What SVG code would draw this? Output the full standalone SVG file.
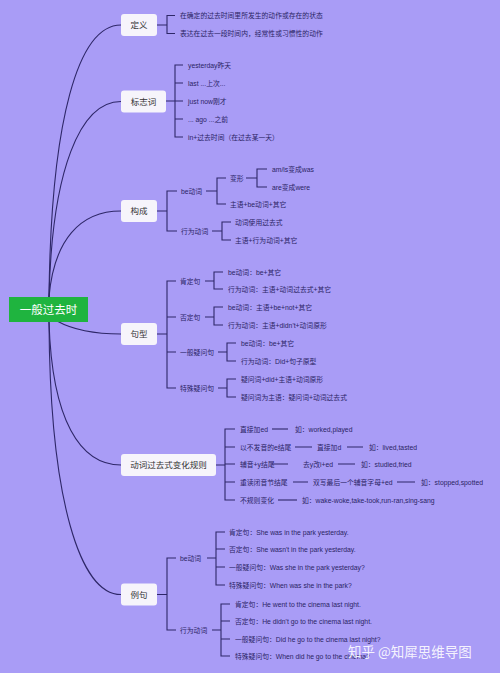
<svg xmlns="http://www.w3.org/2000/svg" width="500" height="673" viewBox="0 0 500 673">
<style>
.bg{fill:#a99cf6}
.ln{fill:none;stroke:#2e2768;stroke-width:1.1}
.box{fill:#f6f4fb;stroke:none}
.t1{font-family:"Liberation Sans","Noto Sans CJK SC",sans-serif;font-size:8.5px;fill:#333;text-anchor:middle;dominant-baseline:central}
.t{font-family:"Liberation Sans","Noto Sans CJK SC",sans-serif;font-size:6.8px;fill:#2b2465;dominant-baseline:central}
.root{fill:#1fb43f}
.tr{font-family:"Liberation Sans","Noto Sans CJK SC",sans-serif;font-size:11.5px;fill:#fff;text-anchor:middle;dominant-baseline:central}
.wm{font-family:"Noto Sans CJK SC",sans-serif;font-size:13.5px;fill:#fff;fill-opacity:0.9}
</style>
<rect class="bg" x="0" y="0" width="500" height="673"/>
<g id="connectors">
<path class="ln" d="M49,297 C51,120 78,25 121,25"/>
<path class="ln" d="M49,297 C52,170 80,101.5 121,101.5"/>
<path class="ln" d="M49,297 C54,240 80,211 121,211"/>
<path class="ln" d="M57,321 C75,331 95,334 121,334"/>
<path class="ln" d="M49,322 C52,420 80,465 121,465"/>
<path class="ln" d="M49,322 C50,500 80,594.5 121,594.5"/>
<!-- 定义 -->
<path class="ln" d="M157,25 H167 M175,15.5 H167 V33.5 H175"/>
<!-- 标志词 -->
<path class="ln" d="M166,101 H183 M183,65 H175 V137 H183 M175,83 H183 M175,119 H183"/>
<!-- 构成 -->
<path class="ln" d="M157,211 H167 M177,191 H167 V231 H177"/>
<path class="ln" d="M206,191 H217 M226,178 H217 V204 H226"/>
<path class="ln" d="M246,178 H257 M267,169 H257 V187 H267"/>
<path class="ln" d="M212,231 H222 M231,222 H222 V240 H231"/>
<!-- 句型 -->
<path class="ln" d="M157,334 H167 M176,281 H167 V388 H176 M167,317 H176 M167,352 H176"/>
<path class="ln" d="M205,281 H214 M223,272 H214 V289 H223"/>
<path class="ln" d="M205,317 H214 M223,307 H214 V325 H223"/>
<path class="ln" d="M218,352 H227 M236,343 H227 V361 H236"/>
<path class="ln" d="M218,388 H227 M236,379 H227 V397 H236"/>
<!-- 动词过去式变化规则 -->
<path class="ln" d="M216,465 H225 M235,429 H225 V500 H235 M225,447 H235 M225,464 H235 M225,482 H235"/>
<path class="ln" d="M272,429 H288"/>
<path class="ln" d="M295,447 H312 M347,447 H363"/>
<path class="ln" d="M272,464 H288 M338,464 H355"/>
<path class="ln" d="M293,482 H308 M397,482 H415"/>
<path class="ln" d="M278,500 H297"/>
<!-- 例句 -->
<path class="ln" d="M157,594.5 H167 M176,558 H167 V630 H176"/>
<path class="ln" d="M207,558 H216 M225,532 H216 V585 H225 M216,549 H225 M216,567 H225"/>
<path class="ln" d="M212,630 H221 M230,604 H221 V656 H230 M221,621 H230 M221,639 H230"/>
</g>
<g id="root">
<rect class="root" x="9" y="297" width="79" height="25"/>
<text class="tr" x="48.5" y="309.5">一般过去时</text>
</g>
<g id="n-dingyi">
<rect class="box" x="121" y="14" width="36" height="22" rx="3"/>
<text class="t1" x="139" y="25">定义</text>
<text class="t" x="180" y="15.5">在确定的过去时间里所发生的动作或存在的状态</text>
<text class="t" x="180" y="33.5">表达在过去一段时间内，经常性或习惯性的动作</text>
</g>
<g id="n-biaozhici">
<rect class="box" x="121" y="90.5" width="45" height="22" rx="3"/>
<text class="t1" x="143.5" y="101.5">标志词</text>
<text class="t" x="188" y="65">yesterday昨天</text>
<text class="t" x="188" y="83">last ...上次...</text>
<text class="t" x="188" y="101">just now刚才</text>
<text class="t" x="188" y="119">... ago ...之前</text>
<text class="t" x="188" y="137">in+过去时间（在过去某一天）</text>
</g>
<g id="n-goucheng">
<rect class="box" x="121" y="200" width="36" height="22" rx="3"/>
<text class="t1" x="139" y="211">构成</text>
<text class="t" x="181" y="191">be动词</text>
<text class="t" x="230" y="178">变形</text>
<text class="t" x="272" y="169">am/is变成was</text>
<text class="t" x="272" y="187">are变成were</text>
<text class="t" x="230" y="204">主语+be动词+其它</text>
<text class="t" x="181" y="231">行为动词</text>
<text class="t" x="235" y="222">动词使用过去式</text>
<text class="t" x="235" y="240">主语+行为动词+其它</text>
</g>
<g id="n-juxing">
<rect class="box" x="121" y="323" width="36" height="22" rx="3"/>
<text class="t1" x="139" y="334">句型</text>
<text class="t" x="180" y="281">肯定句</text>
<text class="t" x="228" y="272">be动词：be+其它</text>
<text class="t" x="228" y="289">行为动词：主语+动词过去式+其它</text>
<text class="t" x="180" y="317">否定句</text>
<text class="t" x="228" y="307">be动词：主语+be+not+其它</text>
<text class="t" x="228" y="325">行为动词：主语+didn't+动词原形</text>
<text class="t" x="180" y="352">一般疑问句</text>
<text class="t" x="241" y="343">be动词：be+其它</text>
<text class="t" x="241" y="361">行为动词：Did+句子原型</text>
<text class="t" x="180" y="388">特殊疑问句</text>
<text class="t" x="241" y="379">疑问词+did+主语+动词原形</text>
<text class="t" x="241" y="397">疑问词为主语：疑问词+动词过去式</text>
</g>
<g id="n-bianhua">
<rect class="box" x="121" y="454" width="95" height="22" rx="3"/>
<text class="t1" x="168.5" y="465">动词过去式变化规则</text>
<text class="t" x="240" y="429">直接加ed</text>
<text class="t" x="295" y="429">如：worked,played</text>
<text class="t" x="240" y="447">以不发音的e结尾</text>
<text class="t" x="317" y="447">直接加d</text>
<text class="t" x="369" y="447">如：lived,tasted</text>
<text class="t" x="240" y="464">辅音+y结尾</text>
<text class="t" x="303" y="464">去y改i+ed</text>
<text class="t" x="361" y="464">如：studied,fried</text>
<text class="t" x="240" y="482">重读闭音节结尾</text>
<text class="t" x="313" y="482">双写最后一个辅音字母+ed</text>
<text class="t" x="421" y="482">如：stopped,spotted</text>
<text class="t" x="240" y="500">不规则变化</text>
<text class="t" x="302" y="500">如：wake-woke,take-took,run-ran,sing-sang</text>
</g>
<g id="n-liju">
<rect class="box" x="121" y="583.5" width="36" height="22" rx="3"/>
<text class="t1" x="139" y="594.5">例句</text>
<text class="t" x="180" y="558">be动词</text>
<text class="t" x="229" y="532">肯定句：She was in the park yesterday.</text>
<text class="t" x="229" y="549">否定句：She wasn't in the park yesterday.</text>
<text class="t" x="229" y="567">一般疑问句：Was she in the park yesterday?</text>
<text class="t" x="229" y="585">特殊疑问句：When was she in the park?</text>
<text class="t" x="180" y="630">行为动词</text>
<text class="t" x="235" y="604">肯定句：He went to the cinema last night.</text>
<text class="t" x="235" y="621">否定句：He didn't go to the cinema last night.</text>
<text class="t" x="235" y="639">一般疑问句：Did he go to the cinema last night?</text>
<text class="t" x="235" y="656">特殊疑问句：When did he go to the cinema?</text>
</g>
<text class="wm" x="348" y="657">知乎 @知犀思维导图</text>
</svg>
